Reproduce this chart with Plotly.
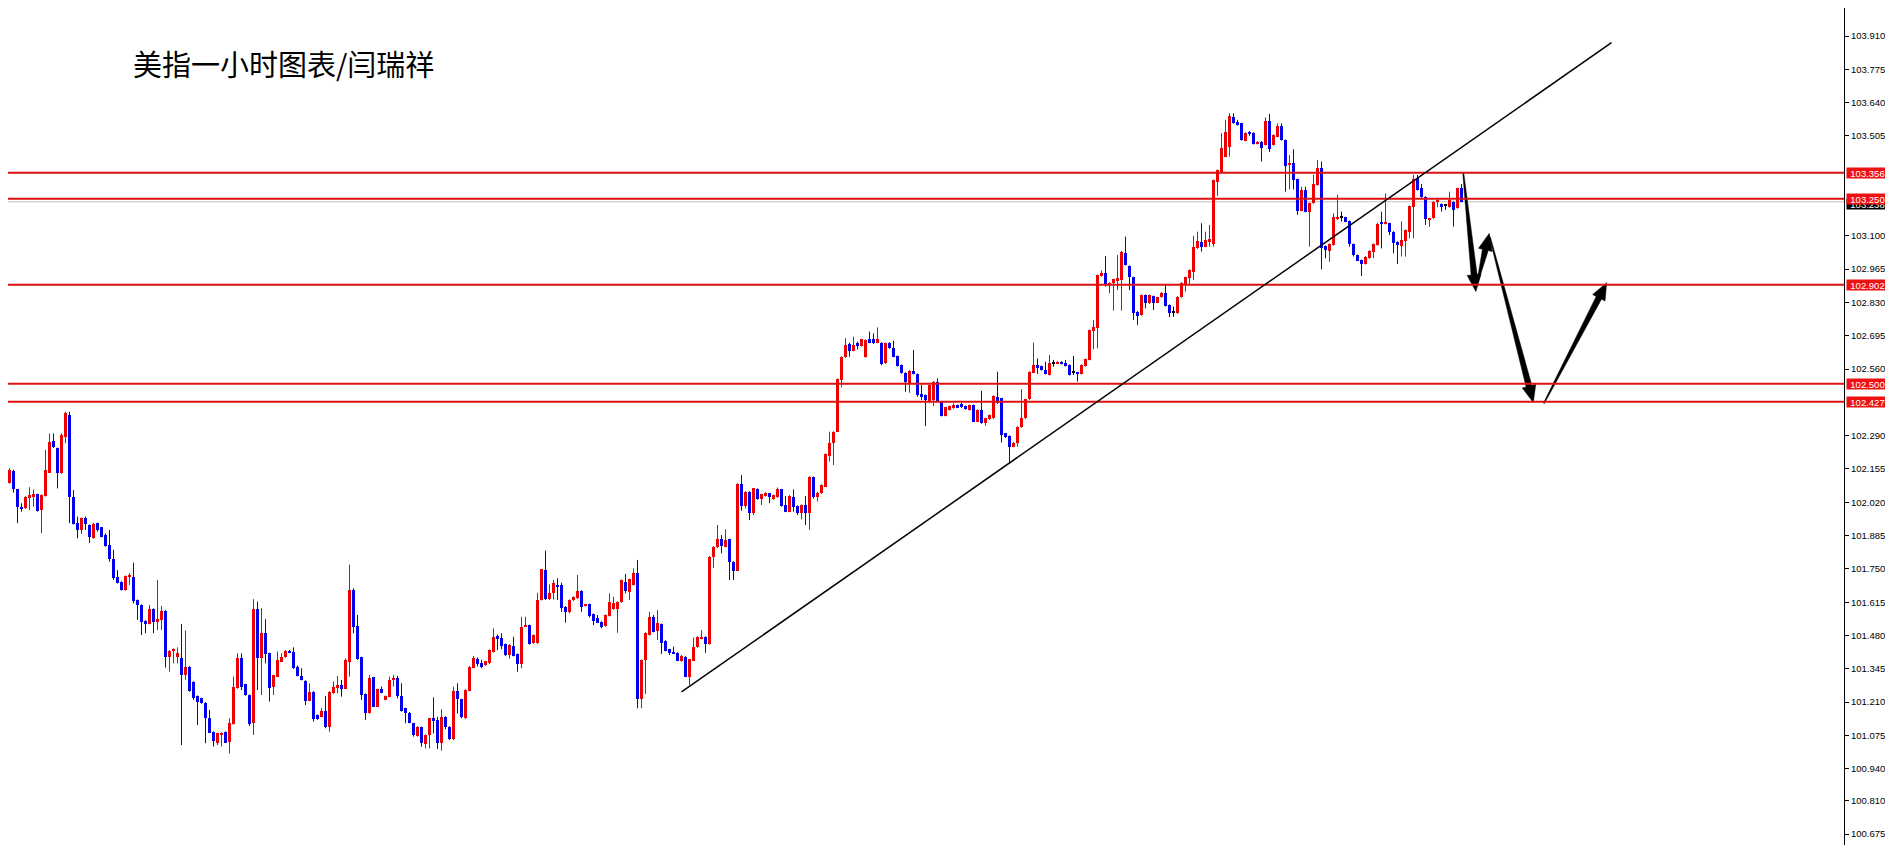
import plotly.graph_objects as go

# ---------------- data ----------------
OPEN = [
    102.097, 102.081, 102.097, 102.148, 102.072, 102.002, 101.995, 102.036, 102.043, 102.053,
    101.989, 102.045, 102.140, 102.268, 102.239, 102.137, 102.286, 102.374, 102.040, 101.935,
    101.908, 101.955, 101.928, 101.874, 101.935, 101.918, 101.887, 101.847, 101.792, 101.718,
    101.698, 101.664, 101.721, 101.716, 101.624, 101.604, 101.540, 101.527, 101.586, 101.536,
    101.543, 101.581, 101.392, 101.419, 101.392, 101.387, 101.320, 101.354, 101.293, 101.235,
    101.226, 101.208, 101.147, 101.089, 101.046, 101.077, 101.089, 101.050, 101.121, 101.266,
    101.387, 101.282, 101.239, 101.124, 101.586, 101.387, 101.489, 101.408, 101.270, 101.313,
    101.374, 101.392, 101.419, 101.415, 101.351, 101.316, 101.297, 101.216, 101.252, 101.158,
    101.151, 101.175, 101.111, 101.246, 101.266, 101.279, 101.265, 101.374, 101.664, 101.519,
    101.392, 101.243, 101.165, 101.310, 101.192, 101.262, 101.219, 101.232, 101.300, 101.306,
    101.235, 101.185, 101.167, 101.124, 101.073, 101.108, 101.040, 101.077, 101.144, 101.137,
    101.043, 101.151, 101.110, 101.059, 101.256, 101.221, 101.144, 101.256, 101.350, 101.385,
    101.367, 101.360, 101.367, 101.413, 101.478, 101.468, 101.445, 101.399, 101.437, 101.405,
    101.364, 101.516, 101.522, 101.448, 101.448, 101.624, 101.745, 101.626, 101.651, 101.686,
    101.685, 101.597, 101.576, 101.622, 101.630, 101.662, 101.600, 101.607, 101.567, 101.549,
    101.536, 101.518, 101.559, 101.586, 101.589, 101.615, 101.698, 101.657, 101.685, 101.735,
    101.221, 101.381, 101.482, 101.556, 101.499, 101.526, 101.459, 101.424, 101.414, 101.410,
    101.376, 101.394, 101.313, 101.378, 101.432, 101.467, 101.475, 101.445, 101.798, 101.838,
    101.870, 101.840, 101.870, 101.779, 101.743, 102.094, 102.005, 102.063, 101.978, 102.072,
    102.032, 102.045, 102.056, 102.032, 102.040, 102.072, 102.009, 101.982, 102.043, 102.005,
    101.975, 102.009, 101.978, 102.121, 102.040, 102.056, 102.083, 102.208, 102.259, 102.306,
    102.515, 102.607, 102.661, 102.634, 102.664, 102.653, 102.608, 102.683, 102.680, 102.667,
    102.667, 102.583, 102.667, 102.644, 102.613, 102.576, 102.545, 102.505, 102.553, 102.540,
    102.457, 102.455, 102.428, 102.435, 102.509, 102.428, 102.370, 102.394, 102.401, 102.414,
    102.418, 102.410, 102.394, 102.414, 102.347, 102.394, 102.343, 102.356, 102.360, 102.445,
    102.441, 102.299, 102.289, 102.245, 102.262, 102.324, 102.360, 102.437, 102.545, 102.576,
    102.572, 102.556, 102.536, 102.583, 102.583, 102.590, 102.583, 102.577, 102.545, 102.545,
    102.540, 102.572, 102.597, 102.716, 102.725, 102.937, 102.948, 102.901, 102.908, 102.918,
    102.921, 103.032, 102.978, 102.932, 102.793, 102.779, 102.860, 102.826, 102.856, 102.829,
    102.851, 102.870, 102.820, 102.789, 102.786, 102.851, 102.905, 102.928, 102.955, 103.049,
    103.076, 103.056, 103.076, 103.066, 103.320, 103.360, 103.421, 103.461, 103.583, 103.563,
    103.556, 103.486, 103.518, 103.518, 103.472, 103.482, 103.468, 103.567, 103.468, 103.502,
    103.545, 103.488, 103.387, 103.394, 103.329, 103.202, 103.286, 103.198, 103.232, 103.306,
    103.374, 103.059, 103.040, 103.063, 103.171, 103.174, 103.175, 103.160, 103.067, 103.022,
    103.002, 102.986, 103.009, 103.036, 103.063, 103.151, 103.148, 103.151, 103.117, 103.076,
    103.059, 103.080, 103.117, 103.216, 103.333, 103.293, 103.259, 103.167, 103.171, 103.238,
    103.229, 103.221, 103.216, 103.238, 103.212, 103.293,
]
HIGH = [
    102.100, 102.102, 102.158, 102.152, 102.072, 102.016, 102.045, 102.081, 102.072, 102.055,
    102.052, 102.232, 102.299, 102.299, 102.242, 102.299, 102.387, 102.387, 102.070, 101.962,
    101.958, 101.962, 101.930, 101.937, 101.937, 101.920, 101.894, 101.908, 101.827, 101.745,
    101.700, 101.723, 101.732, 101.775, 101.626, 101.606, 101.542, 101.604, 101.590, 101.705,
    101.600, 101.583, 101.421, 101.428, 101.432, 101.527, 101.500, 101.356, 101.295, 101.237,
    101.228, 101.210, 101.178, 101.091, 101.086, 101.088, 101.091, 101.144, 101.313, 101.408,
    101.408, 101.284, 101.241, 101.627, 101.617, 101.590, 101.546, 101.410, 101.321, 101.415,
    101.408, 101.421, 101.421, 101.432, 101.358, 101.347, 101.299, 101.286, 101.254, 101.160,
    101.185, 101.235, 101.254, 101.293, 101.316, 101.300, 101.387, 101.767, 101.671, 101.563,
    101.394, 101.245, 101.320, 101.312, 101.264, 101.273, 101.237, 101.313, 101.320, 101.316,
    101.286, 101.187, 101.170, 101.126, 101.113, 101.110, 101.079, 101.146, 101.229, 101.150,
    101.181, 101.153, 101.113, 101.272, 101.286, 101.223, 101.262, 101.356, 101.397, 101.391,
    101.381, 101.377, 101.424, 101.509, 101.483, 101.489, 101.447, 101.445, 101.475, 101.407,
    101.556, 101.556, 101.524, 101.484, 101.653, 101.750, 101.824, 101.687, 101.705, 101.712,
    101.694, 101.599, 101.626, 101.639, 101.725, 101.664, 101.608, 101.609, 101.569, 101.563,
    101.538, 101.565, 101.651, 101.637, 101.619, 101.707, 101.729, 101.710, 101.752, 101.786,
    101.383, 101.493, 101.576, 101.563, 101.583, 101.528, 101.461, 101.426, 101.435, 101.412,
    101.401, 101.396, 101.385, 101.472, 101.477, 101.502, 101.477, 101.802, 101.842, 101.928,
    101.887, 101.910, 101.872, 101.781, 102.097, 102.130, 102.065, 102.065, 102.078, 102.076,
    102.054, 102.061, 102.058, 102.051, 102.080, 102.074, 102.045, 102.049, 102.072, 102.007,
    102.011, 102.045, 102.126, 102.124, 102.062, 102.092, 102.218, 102.306, 102.308, 102.521,
    102.612, 102.685, 102.667, 102.691, 102.671, 102.682, 102.680, 102.712, 102.705, 102.729,
    102.669, 102.666, 102.669, 102.675, 102.615, 102.578, 102.547, 102.555, 102.637, 102.542,
    102.495, 102.457, 102.497, 102.511, 102.522, 102.430, 102.407, 102.412, 102.421, 102.416,
    102.424, 102.412, 102.416, 102.416, 102.397, 102.472, 102.362, 102.376, 102.453, 102.549,
    102.443, 102.301, 102.291, 102.264, 102.328, 102.478, 102.439, 102.551, 102.667, 102.603,
    102.574, 102.590, 102.617, 102.597, 102.592, 102.592, 102.597, 102.579, 102.613, 102.547,
    102.579, 102.602, 102.720, 102.759, 102.943, 102.959, 103.018, 102.912, 102.926, 103.022,
    103.038, 103.097, 102.980, 102.934, 102.795, 102.862, 102.862, 102.862, 102.858, 102.853,
    102.872, 102.901, 102.822, 102.813, 102.855, 102.912, 102.934, 102.964, 103.100, 103.117,
    103.151, 103.117, 103.144, 103.328, 103.369, 103.516, 103.570, 103.597, 103.597, 103.570,
    103.558, 103.520, 103.525, 103.520, 103.484, 103.484, 103.580, 103.594, 103.511, 103.556,
    103.556, 103.490, 103.428, 103.451, 103.331, 103.299, 103.299, 103.234, 103.347, 103.407,
    103.401, 103.061, 103.069, 103.191, 103.266, 103.198, 103.177, 103.162, 103.069, 103.024,
    103.004, 103.018, 103.042, 103.069, 103.153, 103.198, 103.272, 103.153, 103.119, 103.078,
    103.158, 103.126, 103.223, 103.347, 103.347, 103.310, 103.261, 103.173, 103.240, 103.252,
    103.231, 103.225, 103.279, 103.240, 103.295, 103.310,
]
LOW = [
    102.078, 102.079, 102.095, 102.059, 101.935, 101.982, 101.993, 101.989, 102.002, 101.982,
    101.894, 102.043, 102.138, 102.240, 102.076, 102.135, 102.259, 101.935, 101.930, 101.874,
    101.891, 101.908, 101.856, 101.872, 101.901, 101.878, 101.840, 101.779, 101.705, 101.691,
    101.662, 101.662, 101.685, 101.610, 101.543, 101.482, 101.489, 101.525, 101.489, 101.502,
    101.502, 101.350, 101.333, 101.367, 101.367, 101.036, 101.300, 101.252, 101.219, 101.117,
    101.203, 101.043, 101.084, 101.030, 101.036, 101.030, 101.044, 101.002, 101.119, 101.264,
    101.259, 101.236, 101.113, 101.077, 101.259, 101.239, 101.367, 101.212, 101.239, 101.311,
    101.372, 101.390, 101.408, 101.345, 101.314, 101.298, 101.198, 101.214, 101.131, 101.138,
    101.149, 101.104, 101.090, 101.244, 101.246, 101.232, 101.263, 101.313, 101.489, 101.381,
    101.219, 101.138, 101.163, 101.190, 101.190, 101.246, 101.217, 101.230, 101.273, 101.225,
    101.171, 101.124, 101.124, 101.070, 101.070, 101.029, 101.022, 101.022, 101.083, 101.020,
    101.013, 101.100, 101.056, 101.056, 101.164, 101.144, 101.142, 101.254, 101.348, 101.354,
    101.347, 101.358, 101.364, 101.411, 101.421, 101.424, 101.397, 101.386, 101.395, 101.333,
    101.347, 101.514, 101.443, 101.446, 101.446, 101.622, 101.624, 101.624, 101.626, 101.624,
    101.576, 101.532, 101.570, 101.620, 101.628, 101.576, 101.598, 101.553, 101.522, 101.530,
    101.509, 101.516, 101.557, 101.584, 101.491, 101.613, 101.651, 101.624, 101.683, 101.185,
    101.185, 101.243, 101.480, 101.493, 101.462, 101.405, 101.416, 101.401, 101.406, 101.376,
    101.374, 101.311, 101.279, 101.376, 101.430, 101.465, 101.410, 101.443, 101.754, 101.835,
    101.813, 101.838, 101.705, 101.705, 101.741, 101.986, 101.995, 101.948, 101.968, 102.030,
    102.009, 102.043, 102.016, 102.030, 102.038, 102.002, 101.980, 101.980, 101.982, 101.968,
    101.951, 101.928, 101.908, 102.035, 102.023, 102.054, 102.081, 102.185, 102.171, 102.304,
    102.486, 102.605, 102.610, 102.632, 102.640, 102.651, 102.606, 102.665, 102.662, 102.665,
    102.575, 102.581, 102.642, 102.608, 102.570, 102.541, 102.468, 102.464, 102.538, 102.448,
    102.435, 102.329, 102.421, 102.410, 102.426, 102.368, 102.368, 102.392, 102.399, 102.402,
    102.403, 102.395, 102.392, 102.345, 102.345, 102.338, 102.330, 102.354, 102.358, 102.419,
    102.262, 102.281, 102.178, 102.243, 102.245, 102.322, 102.358, 102.435, 102.543, 102.540,
    102.554, 102.538, 102.534, 102.570, 102.581, 102.579, 102.570, 102.534, 102.536, 102.509,
    102.538, 102.570, 102.595, 102.640, 102.644, 102.935, 102.894, 102.867, 102.797, 102.880,
    102.797, 102.980, 102.880, 102.759, 102.739, 102.777, 102.806, 102.824, 102.799, 102.827,
    102.849, 102.814, 102.770, 102.772, 102.784, 102.849, 102.874, 102.905, 102.921, 103.047,
    103.036, 103.054, 103.056, 103.056, 103.262, 103.358, 103.419, 103.421, 103.554, 103.547,
    103.486, 103.484, 103.505, 103.470, 103.470, 103.401, 103.466, 103.440, 103.466, 103.500,
    103.486, 103.279, 103.288, 103.288, 103.185, 103.200, 103.196, 103.056, 103.230, 103.304,
    102.964, 103.009, 102.995, 103.061, 103.164, 103.158, 103.156, 103.056, 103.016, 102.998,
    102.937, 102.984, 103.007, 103.009, 103.061, 103.049, 103.146, 103.103, 103.029, 102.986,
    103.016, 103.016, 103.090, 103.090, 103.284, 103.254, 103.144, 103.137, 103.169, 103.216,
    103.198, 103.205, 103.214, 103.137, 103.210, 103.236,
]
CLOSE = [
    102.081, 102.099, 102.151, 102.072, 101.999, 101.994, 102.040, 102.049, 102.052, 101.986,
    102.049, 102.151, 102.266, 102.243, 102.137, 102.293, 102.380, 102.040, 101.932, 101.908,
    101.955, 101.932, 101.878, 101.932, 101.908, 101.880, 101.843, 101.791, 101.712, 101.694,
    101.664, 101.721, 101.725, 101.620, 101.604, 101.536, 101.527, 101.586, 101.536, 101.547,
    101.581, 101.392, 101.419, 101.424, 101.408, 101.320, 101.354, 101.256, 101.225, 101.212,
    101.205, 101.144, 101.086, 101.054, 101.084, 101.086, 101.046, 101.127, 101.270, 101.387,
    101.273, 101.238, 101.121, 101.586, 101.387, 101.489, 101.405, 101.266, 101.319, 101.381,
    101.394, 101.419, 101.410, 101.347, 101.316, 101.300, 101.216, 101.252, 101.140, 101.140,
    101.175, 101.111, 101.252, 101.270, 101.279, 101.265, 101.381, 101.664, 101.516, 101.383,
    101.239, 101.165, 101.306, 101.192, 101.262, 101.248, 101.235, 101.300, 101.306, 101.235,
    101.175, 101.164, 101.127, 101.077, 101.110, 101.043, 101.077, 101.144, 101.137, 101.043,
    101.151, 101.110, 101.059, 101.256, 101.221, 101.151, 101.259, 101.354, 101.387, 101.364,
    101.354, 101.375, 101.421, 101.472, 101.464, 101.437, 101.401, 101.443, 101.397, 101.364,
    101.516, 101.522, 101.445, 101.482, 101.624, 101.748, 101.626, 101.653, 101.691, 101.680,
    101.590, 101.576, 101.624, 101.637, 101.662, 101.597, 101.606, 101.559, 101.540, 101.532,
    101.516, 101.563, 101.617, 101.613, 101.617, 101.705, 101.662, 101.708, 101.735, 101.221,
    101.381, 101.491, 101.553, 101.495, 101.529, 101.451, 101.418, 101.410, 101.408, 101.378,
    101.397, 101.313, 101.383, 101.435, 101.475, 101.471, 101.445, 101.800, 101.840, 101.870,
    101.843, 101.867, 101.779, 101.743, 102.094, 102.005, 102.063, 101.978, 102.076, 102.032,
    102.052, 102.059, 102.043, 102.049, 102.072, 102.005, 101.982, 102.045, 102.002, 101.975,
    102.009, 101.978, 102.124, 102.040, 102.059, 102.090, 102.216, 102.259, 102.306, 102.518,
    102.610, 102.657, 102.634, 102.656, 102.656, 102.680, 102.678, 102.667, 102.664, 102.680,
    102.580, 102.664, 102.644, 102.610, 102.572, 102.543, 102.509, 102.553, 102.540, 102.455,
    102.448, 102.435, 102.495, 102.509, 102.428, 102.370, 102.405, 102.410, 102.414, 102.404,
    102.405, 102.397, 102.414, 102.347, 102.394, 102.340, 102.360, 102.374, 102.451, 102.421,
    102.293, 102.283, 102.245, 102.262, 102.326, 102.360, 102.437, 102.549, 102.576, 102.563,
    102.556, 102.540, 102.583, 102.583, 102.590, 102.581, 102.572, 102.536, 102.545, 102.540,
    102.577, 102.600, 102.718, 102.729, 102.941, 102.951, 102.901, 102.910, 102.924, 102.928,
    103.036, 102.982, 102.932, 102.786, 102.775, 102.860, 102.826, 102.860, 102.826, 102.851,
    102.870, 102.816, 102.789, 102.789, 102.853, 102.910, 102.932, 102.962, 103.053, 103.080,
    103.056, 103.083, 103.086, 103.326, 103.367, 103.455, 103.522, 103.586, 103.556, 103.549,
    103.488, 103.518, 103.513, 103.472, 103.482, 103.455, 103.567, 103.451, 103.509, 103.545,
    103.488, 103.383, 103.397, 103.326, 103.202, 103.286, 103.198, 103.232, 103.310, 103.374,
    103.049, 103.043, 103.067, 103.175, 103.175, 103.174, 103.158, 103.067, 103.022, 103.000,
    102.986, 103.016, 103.040, 103.067, 103.148, 103.148, 103.153, 103.117, 103.070, 103.063,
    103.083, 103.124, 103.221, 103.329, 103.286, 103.256, 103.167, 103.171, 103.238, 103.245,
    103.216, 103.221, 103.245, 103.205, 103.293, 103.238,
]

LEVELS = [103.356, 103.250, 102.902, 102.500, 102.427]
LEVEL_LABELS = ["103.356", "103.250", "102.902", "102.500", "102.427"]
CURRENT_PRICE = 103.238
CURRENT_LABEL = "103.238"

TICK_VALUES = [104.045, 103.910, 103.775, 103.640, 103.505, 103.100, 102.965, 102.830,
               102.695, 102.560, 102.290, 102.155, 102.020, 101.885, 101.750, 101.615,
               101.480, 101.345, 101.210, 101.075, 100.940, 100.810, 100.675]
TICK_LABELS = ["104.045", "103.910", "103.775", "103.640", "103.505", "103.100", "102.965",
               "102.830", "102.695", "102.560", "102.290", "102.155", "102.020", "101.885",
               "101.750", "101.615", "101.480", "101.345", "101.210", "101.075", "100.940",
               "100.810", "100.675"]

# trend line: (bar index, price)
TREND_START = (170.0, 101.251)
TREND_END = (402.5, 103.883)

# forecast arrows: (tail, tip) in (bar index, price)
ARROWS = [
    ((365.45, 103.353), (368.6, 102.874)),
    ((368.95, 102.908), (371.95, 103.110)),
    ((372.1, 103.095), (382.95, 102.424)),
    ((385.6, 102.421), (401.3, 102.910)),
]

TITLE = "美指一小时图表/闫瑞祥"

# ---------------- styling / layout ----------------
# the page body has an 8px margin, so the figure starts at page (8, 8)
PAGE_OFF = 8
FIG_W, FIG_H = 1893 - PAGE_OFF, 853 - 2 * PAGE_OFF
PLOT_W = 1844 - PAGE_OFF
M_R = FIG_W - PLOT_W
PLOT_H = FIG_H
BAR_PX = 4.0
X0 = -0.375 + PAGE_OFF / BAR_PX
X1 = X0 + PLOT_W / BAR_PX
PX_PER_UNIT = 246.7
Y1 = 103.910 + (36 - PAGE_OFF) / PX_PER_UNIT
Y0 = Y1 - PLOT_H / PX_PER_UNIT
SX = PLOT_W / (X1 - X0)
SY = PLOT_H / (Y1 - Y0)

UP = "#ee0000"
DN = "#0000ee"
DOJI = "#000000"
LEVEL_COLOR = "#dd1111"

n = len(CLOSE)
idx = list(range(n))
colors = []
base = []
height = []
min_h = 1.0 / SY
for o, c in zip(OPEN, CLOSE):
    if c > o:
        colors.append(UP)
    elif c < o:
        colors.append(DN)
    else:
        colors.append(DOJI)
    base.append(min(o, c))
    height.append(max(abs(c - o), min_h))

fig = go.Figure()

# wicks
for col in (UP, DN, DOJI):
    wx, wy = [], []
    for i in idx:
        if colors[i] == col:
            wx += [i, i, None]
            wy += [LOW[i], HIGH[i], None]
    fig.add_trace(go.Scatter(x=wx, y=wy, mode="lines",
                             line=dict(color=col, width=1),
                             hoverinfo="skip", showlegend=False))

# bodies
fig.add_trace(go.Bar(x=idx, y=height, base=base, width=0.75,
                     marker=dict(color=colors, line=dict(width=0)),
                     hoverinfo="skip", showlegend=False))


def arrow_poly(tail, tip, w0, w1, hw, hl):
    tx, ty = tail[0] * SX, tail[1] * SY
    hx, hy = tip[0] * SX, tip[1] * SY
    dx, dy = hx - tx, hy - ty
    L = (dx * dx + dy * dy) ** 0.5
    ux, uy = dx / L, dy / L
    nx, ny = -uy, ux
    bx, by = hx - ux * hl, hy - uy * hl
    pts = [(tx + nx * w0 / 2, ty + ny * w0 / 2),
           (bx + nx * w1 / 2, by + ny * w1 / 2),
           (bx + nx * hw / 2, by + ny * hw / 2),
           (hx, hy),
           (bx - nx * hw / 2, by - ny * hw / 2),
           (bx - nx * w1 / 2, by - ny * w1 / 2),
           (tx - nx * w0 / 2, ty - ny * w0 / 2),
           (tx + nx * w0 / 2, ty + ny * w0 / 2)]
    return [p[0] / SX for p in pts], [p[1] / SY for p in pts]


for tail, tip in ARROWS:
    ax_, ay_ = arrow_poly(tail, tip, 1.0, 6.0, 14.0, 17.0)
    fig.add_trace(go.Scatter(x=ax_, y=ay_, mode="lines", fill="toself",
                             fillcolor="#000000", line=dict(color="#000000", width=0.5),
                             hoverinfo="skip", showlegend=False))

shapes = []
# current price line
shapes.append(dict(type="line", xref="paper", x0=0, x1=1, yref="y",
                   y0=CURRENT_PRICE, y1=CURRENT_PRICE,
                   line=dict(color="#c0c0c0", width=1), layer="below"))
for lv in LEVELS:
    shapes.append(dict(type="line", xref="paper", x0=0, x1=1, yref="y", y0=lv, y1=lv,
                       line=dict(color=LEVEL_COLOR, width=2)))
shapes.append(dict(type="line", xref="x", yref="y",
                   x0=TREND_START[0], y0=TREND_START[1], x1=TREND_END[0], y1=TREND_END[1],
                   line=dict(color="#000000", width=1.5)))
# window border at the right
shapes.append(dict(type="line", xref="paper", yref="paper",
                   x0=(FIG_W - 1.5) / PLOT_W, x1=(FIG_W - 1.5) / PLOT_W, y0=0, y1=1,
                   line=dict(color="#a0a0a0", width=1)))

annotations = []
annotations.append(dict(xref="paper", x=1, xanchor="left", xshift=2,
                        yref="y", y=CURRENT_PRICE, yanchor="middle", yshift=-2,
                        text=CURRENT_LABEL, showarrow=False,
                        font=dict(family="Liberation Sans", size=9.5, color="#ffffff"),
                        bgcolor="#000000", borderpad=0, width=41, height=10))
for lv, lab in zip(LEVELS, LEVEL_LABELS):
    annotations.append(dict(xref="paper", x=1, xanchor="left", xshift=2,
                            yref="y", y=lv, yanchor="middle",
                            text=lab, showarrow=False,
                            font=dict(family="Liberation Sans", size=9.5, color="#ffffff"),
                            bgcolor="#ee1111", borderpad=0, width=41, height=10))
annotations.append(dict(xref="paper", x=(131 - PAGE_OFF) / PLOT_W, xanchor="left",
                        yref="paper", y=1 - (63 - PAGE_OFF) / PLOT_H, yanchor="middle",
                        text=TITLE, showarrow=False,
                        font=dict(family="Noto Sans CJK SC", size=29, color="#000000")))

fig.update_layout(
    width=FIG_W, height=FIG_H, autosize=False,
    margin=dict(l=0, r=M_R, t=0, b=0, pad=0),
    paper_bgcolor="#ffffff", plot_bgcolor="#ffffff",
    showlegend=False, bargap=0,
    shapes=shapes, annotations=annotations,
    xaxis=dict(range=[X0, X1], visible=False, showgrid=False, zeroline=False, fixedrange=True),
    yaxis=dict(range=[Y0, Y1], side="right", showgrid=False, zeroline=False,
               tickmode="array", tickvals=TICK_VALUES, ticktext=TICK_LABELS,
               ticks="outside", ticklen=4, tickwidth=1, tickcolor="#000000",
               showline=True, linecolor="#000000", linewidth=1,
               tickfont=dict(family="Liberation Sans", size=9.5, color="#000000"),
               fixedrange=True),
)

fig.write_html("out.html")
